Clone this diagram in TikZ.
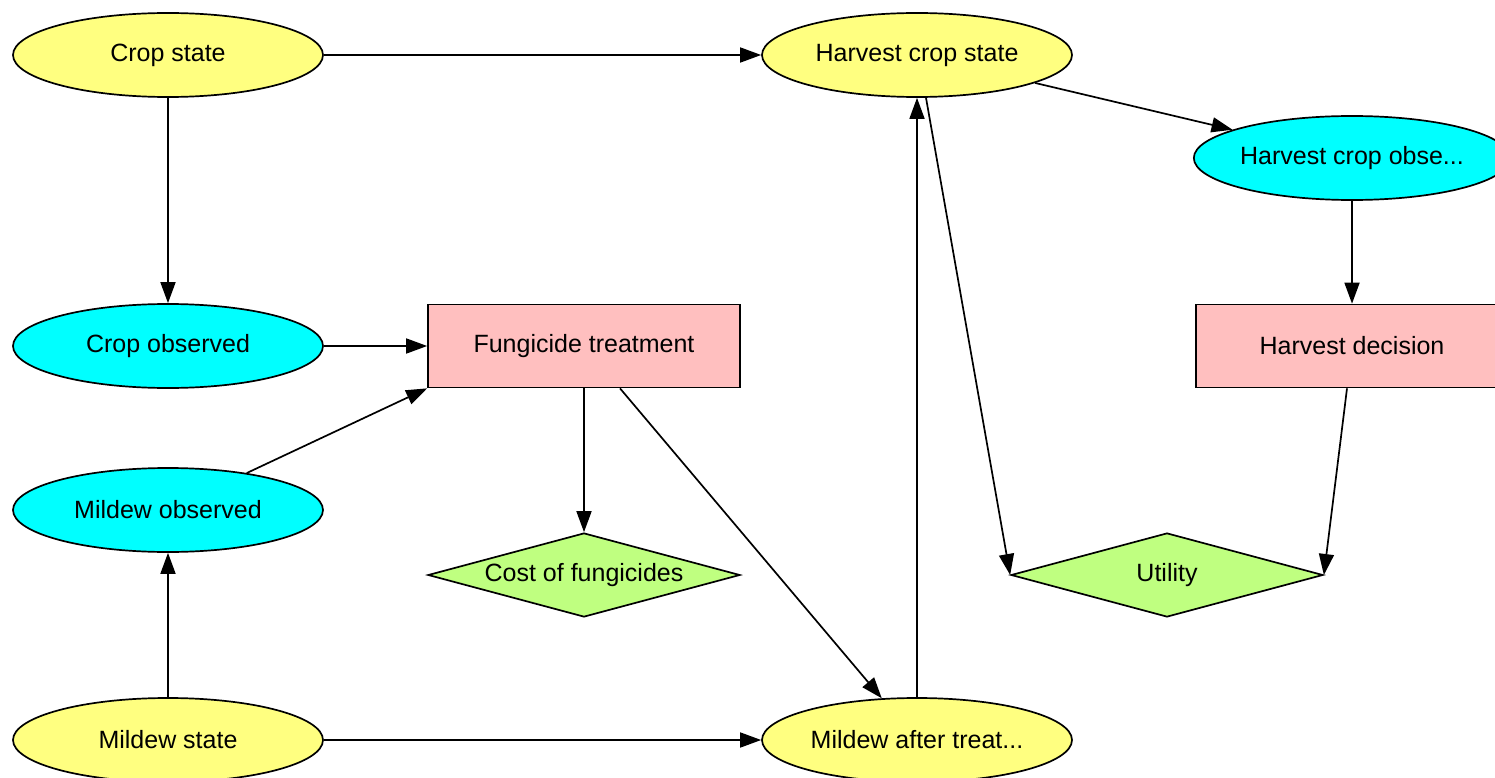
\documentclass[tikz,border=0pt]{standalone}
\usepackage{fontspec}
\setmainfont{Liberation Sans}
\usetikzlibrary{shapes.geometric,arrows.meta}
\definecolor{nodeyellow}{HTML}{FFFF80}
\definecolor{nodecyan}{HTML}{00FFFF}
\definecolor{nodepink}{HTML}{FFBFBF}
\definecolor{nodegreen}{HTML}{BFFF80}
\tikzset{
  base/.style={draw=black, line width=1.7pt, inner sep=0pt, font=\fontsize{25}{29}\selectfont},
  chance/.style={base, ellipse, minimum width=310pt, minimum height=84pt, fill=nodeyellow},
  observed/.style={base, ellipse, minimum width=310pt, minimum height=84pt, fill=nodecyan},
  decision/.style={base, rectangle, minimum width=312pt, minimum height=83pt, fill=nodepink},
  utility/.style={base, diamond, minimum width=312pt, minimum height=84pt, fill=nodegreen},
  link/.style={line width=1.7pt, -{Triangle[length=21pt,width=15pt]}},
}
\begin{document}
\begin{tikzpicture}[x=1pt,y=-1pt]
\clip (0,0) rectangle (1495,778);
\fill[white] (0,0) rectangle (1495,778);
\node[chance]   (cs)  at (168,55)  {Crop state};
\node[chance]   (hcs) at (917,55)  {Harvest crop state};
\node[observed] (hco) at (1352,158) {Harvest crop obse...};
\node[observed] (cob) at (168,346) {Crop observed};
\node[decision] (ft)  at (584,346) {Fungicide treatment};
\node[decision] (hd)  at (1352,346) {Harvest decision};
\node[observed] (mob) at (168,510) {Mildew observed};
\node[utility, label={center:\fontsize{25}{29}\selectfont Cost of fungicides}] (cf) at (584,575) {};
\node[utility, label={center:\fontsize{25}{29}\selectfont Utility}] (ut) at (1167,575) {};
\node[chance]   (ms)  at (168,740) {Mildew state};
\node[chance]   (mat) at (917,740) {Mildew after treat...};

\draw[link] (cs) -- (hcs);
\draw[link] (cs) -- (cob);
\draw[link] (cob) -- (ft);
\draw[link] (mob) -- (ft.south west);
\draw[link] (ms) -- (mob);
\draw[link] (ft) -- (cf);
\draw[link] ([xshift=36pt]ft.south) -- (mat);
\draw[link] (ms) -- (mat);
\draw[link] (mat) -- (hcs);
\draw[link] (hcs) -- (hco);
\draw[link] ([xshift=9pt]hcs.south) -- (ut.west);
\draw[link] (hco) -- (hd);
\draw[link] ([xshift=-5pt]hd.south) -- (ut.east);
\end{tikzpicture}
\end{document}
